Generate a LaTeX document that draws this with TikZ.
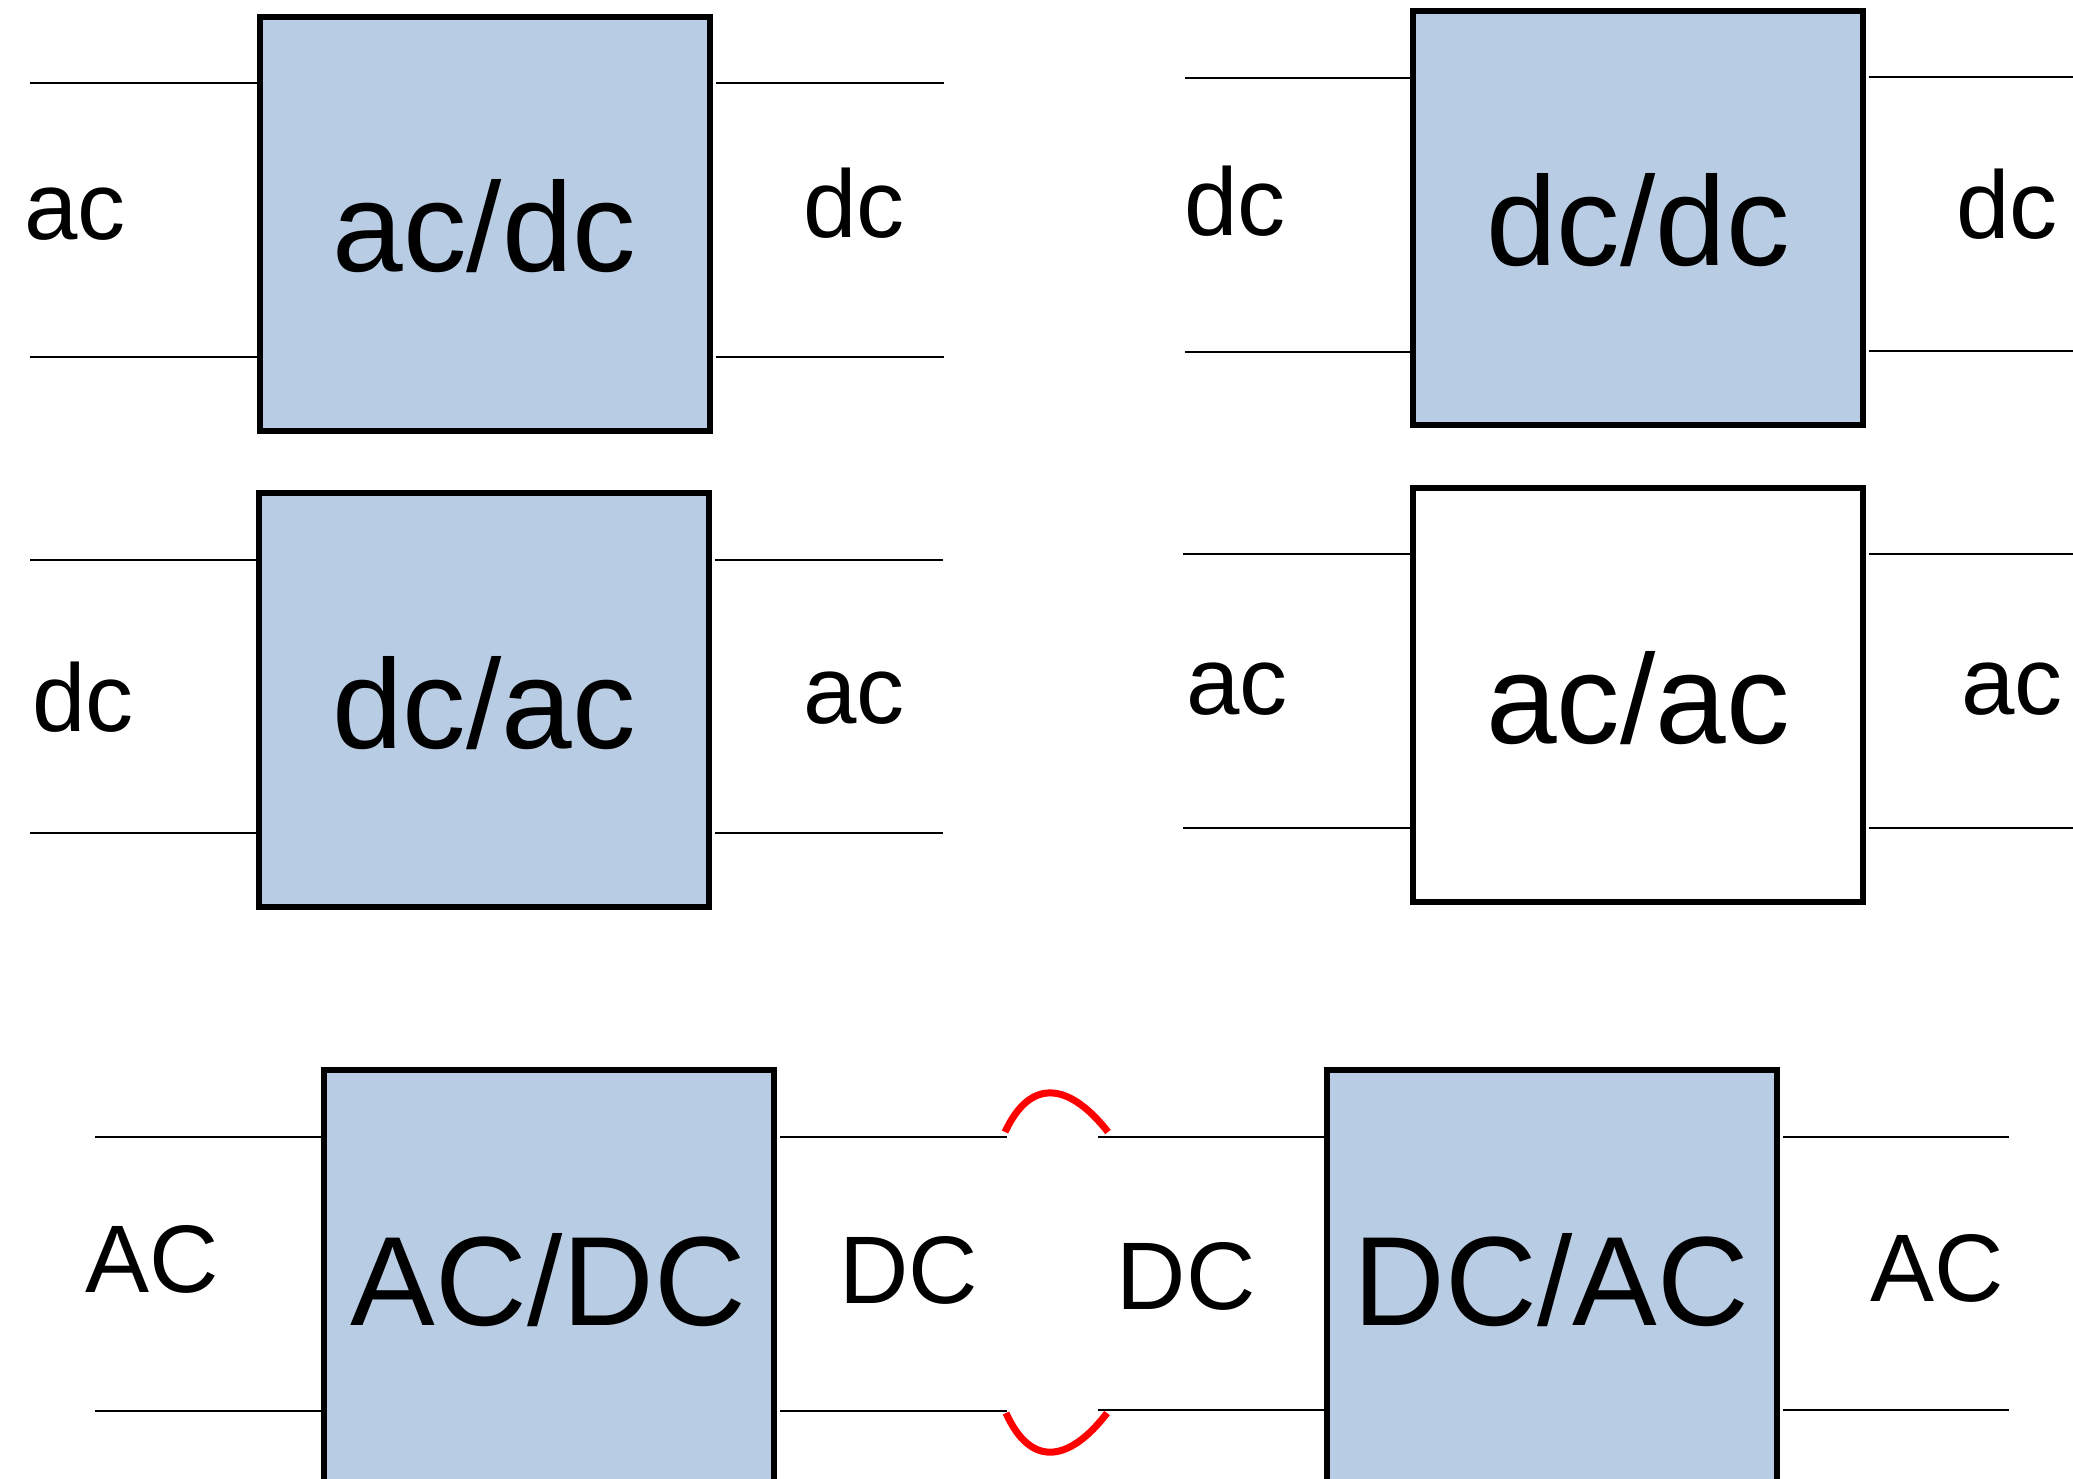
\documentclass[tikz,border=0pt]{standalone}
\usepackage{fontspec}
\setmainfont{Liberation Sans}
\definecolor{boxblue}{RGB}{184,204,228}
\begin{document}
\begin{tikzpicture}[x=0.25pt,y=-0.25pt,
  conv/.style={draw=black, line width=1.5pt, fill=boxblue, rectangle,
    minimum width=112.5pt, minimum height=103.5pt, inner sep=0pt,
    text height=24pt, text depth=0pt, font=\fontsize{31.75}{36}\selectfont},
  plainconv/.style={conv, fill=white},
  wire/.style={draw=black, line width=0.5pt},
  lbl/.style={anchor=base, inner sep=0pt, font=\fontsize{24}{28}\selectfont},
  link/.style={draw=red, line width=1.75pt}]
\clip (0,0) rectangle (2073,1478);
\fill[white] (0,0) rectangle (2073,1478);

% boxes
\node[conv] (b1) at (484.5,223.5) {ac/dc};
\node[conv] (b2) at (1638,217.5) {dc/dc};
\node[conv] (b3) at (484,700) {dc/ac};
\node[plainconv] (b4) at (1638,695) {ac/ac};
\node[conv] (b5) at (548.5,1277) {AC/DC};
\node[conv] (b6) at (1551.5,1277) {DC/AC};

% free wire ends
\coordinate (w1a) at (30,83);   \coordinate (w1b) at (30,357);
\coordinate (w1c) at (944,83);  \coordinate (w1d) at (944,357);
\coordinate (w2a) at (1185,78); \coordinate (w2b) at (1185,352);
\coordinate (w2c) at (2073,77); \coordinate (w2d) at (2073,351);
\coordinate (w3a) at (30,560);  \coordinate (w3b) at (30,833);
\coordinate (w3c) at (943,560); \coordinate (w3d) at (943,833);
\coordinate (w4a) at (1183,554); \coordinate (w4b) at (1183,828);
\coordinate (w4c) at (2073,554); \coordinate (w4d) at (2073,828);
\coordinate (w5a) at (95,1137);  \coordinate (w5b) at (95,1411);
\coordinate (w5c) at (1007,1137); \coordinate (w5d) at (1007,1411);
\coordinate (w6a) at (1098,1137); \coordinate (w6b) at (1098,1410);
\coordinate (w6c) at (2009,1137); \coordinate (w6d) at (2009,1410);

\foreach \i in {1,...,6}{
  \draw[wire] (w\i a) -- (w\i a -| b\i.west);
  \draw[wire] (w\i b) -- (w\i b -| b\i.west);
  \draw[wire, shorten <=0.8pt] (w\i c -| b\i.east) -- (w\i c);
  \draw[wire, shorten <=0.8pt] (w\i d -| b\i.east) -- (w\i d);
}

% red links
\coordinate (r1) at (1005,1132); \coordinate (r2) at (1108,1132);
\coordinate (r3) at (1006,1413); \coordinate (r4) at (1107,1413);
\draw[link] (r1) .. controls (1032,1074) and (1072,1086) .. (r2);
\draw[link] (r3) .. controls (1032,1471) and (1072,1459) .. (r4);

% labels
\node[lbl] (t1) at (75,239) {ac};
\node[lbl] (t2) at (854,237) {dc};
\node[lbl] (t3) at (1235,235) {dc};
\node[lbl] (t4) at (2007,238) {dc};
\node[lbl] (t5) at (83,731) {dc};
\node[lbl] (t6) at (854,723) {ac};
\node[lbl] (t7) at (1237,714) {ac};
\node[lbl] (t8) at (2012,714) {ac};
\node[lbl] (t9) at (152,1292) {AC};
\node[lbl] (t10) at (909,1303) {DC};
\node[lbl] (t11) at (1186,1309) {DC};
\node[lbl] (t12) at (1937,1301) {AC};
\end{tikzpicture}
\end{document}
